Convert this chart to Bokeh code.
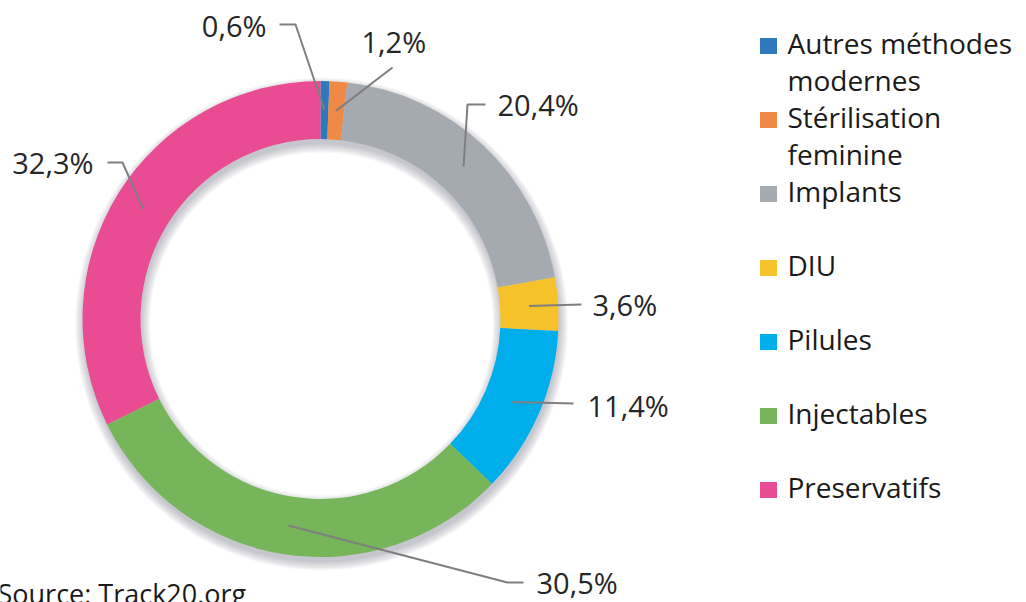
import numpy as np
from bokeh.plotting import figure
from bokeh.models import Range1d
from bokeh.embed import file_html
from bokeh.resources import INLINE
from bokeh.core.properties import value

# ---- data ----
categories = ["Autres méthodes\nmodernes", "Stérilisation\nfeminine", "Implants", "DIU",
              "Pilules", "Injectables", "Preservatifs"]
shares = [0.6, 1.2, 20.4, 3.6, 11.4, 30.5, 32.3]
pct_labels = ["0,6%", "1,2%", "20,4%", "3,6%", "11,4%", "30,5%", "32,3%"]
colors = ["#2F78BE", "#EE8A45", "#A5AAB1", "#F6C22A", "#00AEEB", "#76B559", "#E94C92"]
source_note = "Source: Track20.org"

# ---- layout (pixel coords, y measured from top) ----
W, H = 1026, 602
CX, CY_TOP = 320, 318.5
R_IN, R_OUT, R_LEAD = 180, 238, 209
FONT = "Open Sans"
BASE_FIX = 11  # renderer places alphabetic baseline slightly lower

def Y(py):
    return H - py

def YT(py):
    return H - (py - BASE_FIX)

CY = Y(CY_TOP)

# label text position (x, baseline y, align) and leader elbow points
label_layout = [
    (266, 36, "right", [(279, 24), (295, 24)]),
    (361, 52, "left", [(392, 67)]),
    (497, 115, "left", [(485, 104), (467, 104)]),
    (592, 315, "left", [(581, 304)]),
    (587, 416, "left", [(573, 403)]),
    (536, 593, "left", [(523, 582), (507, 582)]),
    (93, 173, "right", [(107, 162), (122, 162)]),
]

p = figure(width=W, height=H, x_range=Range1d(0, W), y_range=Range1d(0, H),
           output_backend="svg", toolbar_location=None, min_border=0,
           x_axis_location=None, y_axis_location=None)
p.grid.visible = False
p.outline_line_color = None
p.background_fill_color = "white"
p.border_fill_color = "white"

# ---- soft shadow (cast downward) ----
for k in range(8):
    p.annulus(x=[CX + 1], y=[CY - 5], inner_radius=R_IN - k * 1.2,
              outer_radius=R_OUT + k * 1.2, fill_color="#5A6472",
              fill_alpha=0.05, line_color=None)

# ---- donut ----
vals = np.array(shares, dtype=float)
total = vals.sum()
cum_after = np.cumsum(vals)
cum_before = cum_after - vals
start = np.pi / 2 - 2 * np.pi * cum_before / total
end = np.pi / 2 - 2 * np.pi * cum_after / total
mid = (start + end) / 2

p.annular_wedge(x=CX, y=CY, inner_radius=R_IN, outer_radius=R_OUT,
                start_angle=list(start), end_angle=list(end), direction="clock",
                fill_color=colors, line_color=None)

# ---- leader lines & labels ----
xs, ys = [], []
for (tx, ty, al, pts), a in zip(label_layout, mid):
    ax = CX + R_LEAD * np.cos(a)
    ay = CY + R_LEAD * np.sin(a)
    xs.append([q[0] for q in pts] + [ax])
    ys.append([Y(q[1]) for q in pts] + [ay])
p.multi_line(xs=xs, ys=ys, line_color="#7F7F7F", line_width=2)

for (tx, ty, al, pts), lab in zip(label_layout, pct_labels):
    p.text(x=[tx], y=[YT(ty)], text=[lab], text_font=value(FONT), text_font_size="29px",
           text_color="#262626", text_align=al, text_baseline="alphabetic")

# ---- legend ----
LEG_SQ_X, LEG_TX = 768, 787
LEG_Y0, LEG_STEP, LEG_LINE = 53, 74, 37.5
for i, (cat, col) in enumerate(zip(categories, colors)):
    by = LEG_Y0 + i * LEG_STEP
    p.rect(x=[LEG_SQ_X], y=[Y(by - 7.5)], width=17, height=16, fill_color=col,
           line_color=None)
    for j, line in enumerate(cat.split("\n")):
        p.text(x=[LEG_TX], y=[YT(by + j * LEG_LINE)], text=[line], text_font=value(FONT),
               text_font_size="28px", text_color="#1A1A1A", text_align="left",
               text_baseline="alphabetic")

# ---- source (cut by the bottom edge, as in the reference) ----
p.text(x=[-3], y=[YT(604)], text=[source_note], text_font=value(FONT),
       text_font_size="27px", text_color="#1A1A1A", text_align="left",
       text_baseline="alphabetic")

open("out.html", "w").write(file_html(p, INLINE))
